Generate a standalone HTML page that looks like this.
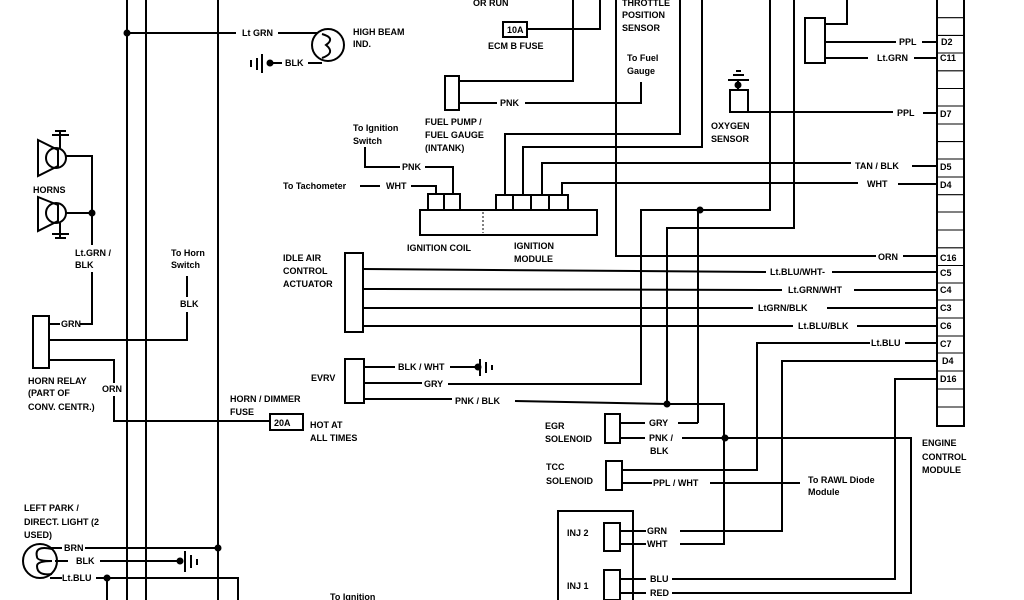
<!DOCTYPE html>
<html><head><meta charset="utf-8"><style>
html,body{margin:0;padding:0;background:#fff;width:1024px;height:600px;overflow:hidden}
text{font-family:"Liberation Sans",sans-serif;font-size:9px;fill:#000;font-weight:600}
.b{font-weight:bold}
</style></head><body>
<svg width="1024" height="600" viewBox="0 0 1024 600" xmlns="http://www.w3.org/2000/svg">
<g stroke="#000" stroke-width="2" fill="none">
<line x1="127" y1="0" x2="127" y2="600"/><line x1="146" y1="0" x2="146" y2="600"/><line x1="218" y1="0" x2="218" y2="600"/>
<polyline points="127,33 236,33"/><polyline points="278,33 318,33"/>
<circle cx="328" cy="45" r="16"/>
<path d="M322,34 q14,4 4,11 q10,8 -4,13"/>
<polyline points="268,63 282,63"/><polyline points="308,63 322,63"/>
<line x1="262" y1="54" x2="262" y2="73"/><line x1="257" y1="58" x2="257" y2="70"/><line x1="251" y1="60" x2="251" y2="67"/>
<path d="M38,140 L58,150 L58,166 L38,176 Z"/><circle cx="56" cy="158" r="10"/>
<path d="M38,197 L58,205 L58,221 L38,231 Z"/><circle cx="56" cy="213" r="10"/>
<line x1="60" y1="130" x2="60" y2="148"/><line x1="52" y1="135" x2="69" y2="135"/><line x1="55" y1="131" x2="66" y2="131"/>
<line x1="60" y1="223" x2="60" y2="238"/><line x1="52" y1="234" x2="69" y2="234"/><line x1="55" y1="238" x2="66" y2="238"/>
<polyline points="66,156 92,156 92,245"/><line x1="66" y1="213" x2="92" y2="213"/>
<polyline points="92,272 92,324 80,324"/><line x1="49" y1="324" x2="60" y2="324"/>
<rect x="33" y="316" width="16" height="52"/>
<polyline points="49,340 187,340 187,312"/><line x1="187" y1="276" x2="187" y2="297"/>
<polyline points="49,360 114,360 114,383"/><polyline points="114,396 114,421 270,421"/>
<rect x="270" y="414" width="33" height="16"/>
<circle cx="40" cy="561" r="17"/>
<path d="M52,549 q-18,-4 -15,8 q0,4 15,4 q-15,0 -15,5 q0,10 15,8"/>
<polyline points="50,548 62,548"/><polyline points="85,548 218,548"/>
<polyline points="55,561 68,561"/><polyline points="100,561 180,561"/>
<line x1="185" y1="551" x2="185" y2="572"/><line x1="191" y1="555" x2="191" y2="568"/><line x1="197" y1="559" x2="197" y2="565"/>
<polyline points="50,578 62,578"/><polyline points="96,578 238,578 238,600"/>
<line x1="107" y1="578" x2="107" y2="600"/>
<rect x="445" y="76" width="14" height="34"/>
<polyline points="459,81 573,81 573,0"/>
<polyline points="459,103 497,103"/><polyline points="525,103 641,103 641,82"/>
<rect x="503" y="22" width="24" height="15"/>
<polyline points="527,29 600,29 600,0"/>
<polyline points="616,0 616,256 876,256"/><line x1="903" y1="256" x2="937" y2="256"/>
<polyline points="680,0 680,134 505,134 505,195"/>
<polyline points="702,0 702,147 523,147 523,195"/>
<polyline points="542,195 542,163 851,163"/><line x1="912" y1="166" x2="937" y2="166"/>
<polyline points="562,195 562,183 858,183"/><line x1="898" y1="184" x2="937" y2="184"/>
<rect x="420" y="210" width="177" height="25"/>
<line x1="483" y1="212" x2="483" y2="233" stroke-dasharray="2,2" stroke-width="1"/>
<rect x="428" y="194" width="16" height="16"/><rect x="444" y="194" width="16" height="16"/>
<rect x="496" y="195" width="17" height="15"/><rect x="513" y="195" width="18" height="15"/><rect x="531" y="195" width="18" height="15"/><rect x="549" y="195" width="19" height="15"/>
<polyline points="365,147 365,167 400,167"/><polyline points="425,167 453,167 453,194"/>
<line x1="360" y1="186" x2="380" y2="186"/><polyline points="411,186 436,186 436,194"/>
<rect x="730" y="90" width="18" height="22"/>
<line x1="738" y1="80" x2="738" y2="90"/><line x1="728" y1="80" x2="749" y2="80"/><line x1="733" y1="75" x2="744" y2="75"/><line x1="736" y1="71" x2="741" y2="71"/>
<polyline points="748,112 893,112"/><line x1="923" y1="113" x2="937" y2="113"/>
<rect x="805" y="18" width="20" height="45"/>
<polyline points="825,24 847,24 847,0"/>
<line x1="825" y1="42" x2="896" y2="42"/><line x1="922" y1="42" x2="937" y2="42"/>
<line x1="825" y1="58" x2="868" y2="58"/><line x1="914" y1="58" x2="937" y2="58"/>
<rect x="937" y="-2" width="27" height="428"/>
<rect x="345" y="253" width="18" height="79"/>
<line x1="363" y1="269" x2="766" y2="272"/><line x1="832" y1="272" x2="937" y2="272"/>
<line x1="363" y1="289" x2="782" y2="290"/><line x1="854" y1="290" x2="937" y2="290"/>
<line x1="363" y1="308" x2="753" y2="308"/><line x1="827" y1="308" x2="937" y2="308"/>
<line x1="363" y1="326" x2="793" y2="326"/><line x1="857" y1="326" x2="937" y2="326"/>
<polyline points="770,0 770,210 641,210 641,384 448,384"/>
<polyline points="794,0 794,228 667,228 667,404 515,401"/>
<line x1="698" y1="210" x2="698" y2="423"/>
<polyline points="667,404 724,404 724,544 680,544"/>
<rect x="345" y="359" width="19" height="44"/>
<line x1="364" y1="367" x2="395" y2="367"/><line x1="450" y1="367" x2="478" y2="367"/>
<line x1="480" y1="359" x2="480" y2="376"/><line x1="486" y1="362" x2="486" y2="373"/><line x1="492" y1="365" x2="492" y2="370"/>
<line x1="364" y1="383" x2="422" y2="383"/>
<line x1="364" y1="399" x2="452" y2="399"/>
<polyline points="870,343 757,343 757,470 622,470"/><line x1="905" y1="343" x2="937" y2="343"/>
<polyline points="937,361 782,361 782,531 680,531"/>
<polyline points="937,379 895,379 895,579 672,579"/>
<rect x="605" y="414" width="15" height="29"/>
<line x1="620" y1="423" x2="645" y2="423"/><polyline points="678,423 698,423"/>
<line x1="620" y1="438" x2="645" y2="438"/><polyline points="682,438 911,438 911,593 672,593"/>
<rect x="606" y="461" width="16" height="29"/>
<line x1="622" y1="483" x2="652" y2="483"/><line x1="710" y1="483" x2="800" y2="483"/>
<polyline points="558,600 558,511 633,511 633,600"/>
<rect x="604" y="523" width="16" height="28"/>
<line x1="620" y1="531" x2="646" y2="531"/><line x1="620" y1="544" x2="646" y2="544"/>
<rect x="604" y="570" width="16" height="30"/>
<line x1="620" y1="579" x2="646" y2="579"/><line x1="620" y1="593" x2="646" y2="593"/>
</g>
<g stroke="#000" stroke-width="1.1">
<line x1="937" y1="17.7" x2="964" y2="17.7"/>
<line x1="937" y1="35.4" x2="964" y2="35.4"/><line x1="937" y1="53" x2="964" y2="53"/><line x1="937" y1="70.8" x2="964" y2="70.8"/>
<line x1="937" y1="88.5" x2="964" y2="88.5"/><line x1="937" y1="106" x2="964" y2="106"/><line x1="937" y1="124" x2="964" y2="124"/>
<line x1="937" y1="141.6" x2="964" y2="141.6"/><line x1="937" y1="159" x2="964" y2="159"/><line x1="937" y1="177" x2="964" y2="177"/>
<line x1="937" y1="194.7" x2="964" y2="194.7"/><line x1="937" y1="212" x2="964" y2="212"/><line x1="937" y1="230" x2="964" y2="230"/>
<line x1="937" y1="247.8" x2="964" y2="247.8"/><line x1="937" y1="265.5" x2="964" y2="265.5"/><line x1="937" y1="283" x2="964" y2="283"/>
<line x1="937" y1="300" x2="964" y2="300"/><line x1="937" y1="318" x2="964" y2="318"/><line x1="937" y1="336" x2="964" y2="336"/>
<line x1="937" y1="353" x2="964" y2="353"/><line x1="937" y1="371" x2="964" y2="371"/><line x1="937" y1="389" x2="964" y2="389"/>
<line x1="937" y1="407" x2="964" y2="407"/>
</g>
<g fill="#000">
<circle cx="127" cy="33" r="3.5"/><circle cx="270" cy="63" r="3.5"/><circle cx="92" cy="213" r="3.5"/>
<circle cx="218" cy="548" r="3.5"/><circle cx="180" cy="561" r="3.5"/><circle cx="107" cy="578" r="3.5"/>
<circle cx="700" cy="210" r="3.5"/><circle cx="667" cy="404" r="3.5"/><circle cx="725" cy="438" r="3.5"/>
<circle cx="738" cy="85" r="3.5"/><circle cx="478" cy="367" r="3.5"/>
</g>
<g>
<text x="242" y="36">Lt GRN</text><text x="285" y="66">BLK</text>
<text x="353" y="35" class="b">HIGH BEAM</text><text x="353" y="47" class="b">IND.</text>
<text x="473" y="6" class="b">OR RUN</text><text x="507" y="33">10A</text><text x="488" y="49" class="b">ECM B FUSE</text>
<text x="622" y="6" class="b">THROTTLE</text><text x="622" y="18" class="b">POSITION</text><text x="622" y="31" class="b">SENSOR</text>
<text x="627" y="61">To Fuel</text><text x="627" y="74">Gauge</text>
<text x="500" y="106">PNK</text>
<text x="425" y="125" class="b">FUEL PUMP /</text><text x="425" y="138" class="b">FUEL GAUGE</text><text x="425" y="151">(INTANK)</text>
<text x="353" y="131">To Ignition</text><text x="353" y="144">Switch</text>
<text x="402" y="170">PNK</text><text x="283" y="189">To Tachometer</text><text x="386" y="189">WHT</text>
<text x="407" y="251" class="b">IGNITION COIL</text><text x="514" y="249" class="b">IGNITION</text><text x="514" y="262" class="b">MODULE</text>
<text x="711" y="129" class="b">OXYGEN</text><text x="711" y="142" class="b">SENSOR</text>
<text x="899" y="45">PPL</text><text x="877" y="61">Lt.GRN</text><text x="897" y="116">PPL</text>
<text x="855" y="169">TAN / BLK</text><text x="867" y="187">WHT</text><text x="878" y="260">ORN</text>
<text x="770" y="275">Lt.BLU/WHT-</text><text x="788" y="293">Lt.GRN/WHT</text><text x="758" y="311">LtGRN/BLK</text>
<text x="798" y="329">Lt.BLU/BLK</text><text x="871" y="346">Lt.BLU</text>
<text x="941" y="45">D2</text><text x="940" y="61">C11</text><text x="940" y="117">D7</text><text x="940" y="170">D5</text><text x="940" y="188">D4</text>
<text x="940" y="261">C16</text><text x="940" y="276">C5</text><text x="940" y="293">C4</text><text x="940" y="311">C3</text><text x="940" y="329">C6</text>
<text x="940" y="347">C7</text><text x="942" y="364">D4</text><text x="940" y="382">D16</text>
<text x="922" y="446" class="b">ENGINE</text><text x="922" y="460" class="b">CONTROL</text><text x="922" y="473" class="b">MODULE</text>
<text x="283" y="261" class="b">IDLE AIR</text><text x="283" y="274" class="b">CONTROL</text><text x="283" y="287" class="b">ACTUATOR</text>
<text x="311" y="381" class="b">EVRV</text><text x="398" y="370">BLK / WHT</text><text x="424" y="387">GRY</text><text x="455" y="404">PNK / BLK</text>
<text x="545" y="429" class="b">EGR</text><text x="545" y="442" class="b">SOLENOID</text>
<text x="649" y="426">GRY</text><text x="649" y="441">PNK /</text><text x="650" y="454">BLK</text>
<text x="546" y="470" class="b">TCC</text><text x="546" y="484" class="b">SOLENOID</text>
<text x="653" y="486">PPL / WHT</text><text x="808" y="483">To RAWL Diode</text><text x="808" y="495">Module</text>
<text x="567" y="536" class="b">INJ 2</text><text x="647" y="534">GRN</text><text x="647" y="547">WHT</text>
<text x="567" y="589" class="b">INJ 1</text><text x="650" y="582">BLU</text><text x="650" y="596">RED</text>
<text x="33" y="193" class="b">HORNS</text><text x="75" y="256">Lt.GRN /</text><text x="75" y="268">BLK</text>
<text x="171" y="256">To  Horn</text><text x="171" y="268">Switch</text><text x="180" y="307">BLK</text>
<text x="61" y="327">GRN</text>
<text x="28" y="384" class="b">HORN RELAY</text><text x="28" y="396">(PART OF</text><text x="28" y="410">CONV. CENTR.)</text>
<text x="102" y="392">ORN</text>
<text x="230" y="402" class="b">HORN / DIMMER</text><text x="230" y="415" class="b">FUSE</text>
<text x="274" y="426">20A</text><text x="310" y="428" class="b">HOT AT</text><text x="310" y="441" class="b">ALL TIMES</text>
<text x="24" y="511" class="b">LEFT PARK /</text><text x="24" y="525" class="b">DIRECT. LIGHT (2</text><text x="24" y="538">USED)</text>
<text x="64" y="551">BRN</text><text x="76" y="564">BLK</text><text x="62" y="581">Lt.BLU</text>
<text x="330" y="600">To Ignition</text>
</g>
</svg>
</body></html>
